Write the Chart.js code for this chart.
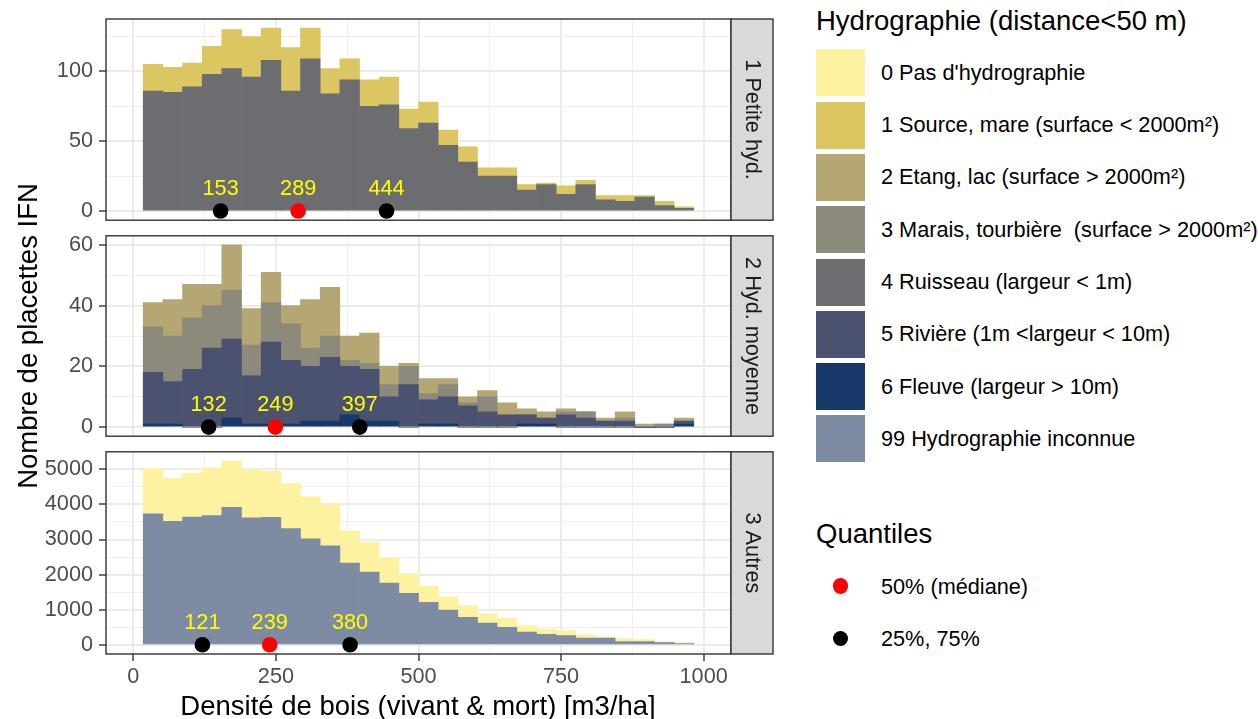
<!DOCTYPE html>
<html>
<head>
<meta charset="utf-8">
<script src="https://cdn.jsdelivr.net/npm/chart.js@4.4.0/dist/chart.umd.min.js"></script>
<style>
  body { margin: 0; background: #fff; width: 1258px; height: 719px; overflow: hidden; position: relative;
         font-family: "Liberation Sans", Arial, sans-serif; }
  .panel { position: absolute; left: 0; width: 790px; }
  .abs { position: absolute; white-space: pre; }
  .bigtxt { font-size: 27.5px; line-height: 30px; color: #000; }
  .smalltxt { font-size: 21.7px; line-height: 24px; color: #000; }
</style>
</head>
<body>
<div class="panel" style="top:0;height:228px"><canvas id="c1"></canvas></div>
<div class="panel" style="top:228px;height:216px"><canvas id="c2"></canvas></div>
<div class="panel" style="top:444px;height:275px"><canvas id="c3"></canvas></div>

<div class="abs bigtxt" style="left:-272px;top:321px;width:600px;text-align:center;transform:rotate(-90deg)">Nombre de placettes IFN</div>
<div class="abs bigtxt" style="left:118px;top:691px;width:600px;text-align:center">Densité de bois (vivant &amp; mort) [m3/ha]</div>
<div id="legend"></div>

<script>
// centres des classes (30 classes de 0 à 1000, les deux extrêmes vides)
const binCenters = [34.48, 68.97, 103.45, 137.93, 172.41, 206.90, 241.38, 275.86, 310.34, 344.83,
  379.31, 413.79, 448.28, 482.76, 517.24, 551.72, 586.21, 620.69, 655.17, 689.66,
  724.14, 758.62, 793.10, 827.59, 862.07, 896.55, 931.03, 965.52];

// 1 Petite hyd.
const p1Ruisseau = [86, 85, 89, 98, 102, 96, 108, 86, 109, 84, 94, 75, 76, 59, 63, 47, 35, 25, 25, 15, 19, 12, 19, 8, 7, 10, 4, 2];
const p1Source   = [19, 18, 17, 20, 28, 29, 23, 31, 22, 18, 15, 19, 20, 14, 15, 11, 11, 6, 6, 4, 1, 6, 3, 3, 4, 1, 3, 1];

// 2 Hyd. moyenne
const p2Fleuve  = [1, 1, 0, 0, 3, 1, 1, 1, 2, 2, 4, 2, 2, 0, 1, 1, 0, 0, 0, 1, 1, 0, 0, 0, 0, 0, 0, 1];
const p2Riviere = [17, 14, 19, 26, 26, 16, 27, 21, 18, 21, 16, 17, 8, 14, 8, 9, 7, 5, 4, 3, 2, 4, 3, 2, 2, 0, 0, 1];
const p2Marais  = [15, 15, 17, 14, 16, 10, 13, 12, 6, 7, 2, 2, 4, 6, 2, 4, 1, 5, 0, 0, 0, 1, 2, 0, 1, 0, 1, 0];
const p2Etang   = [8, 12, 11, 7, 15, 12, 10, 6, 16, 16, 8, 10, 6, 1, 5, 2, 2, 2, 4, 2, 2, 1, 0, 1, 2, 1, 0, 1];

// 3 Autres
const p3Inconnue = [3730, 3520, 3640, 3680, 3920, 3620, 3630, 3310, 3020, 2820, 2330, 2070, 1760, 1470, 1210, 990, 780, 620, 500, 360, 300, 265, 190, 190, 95, 95, 66, 38];
const p3Pas      = [1300, 1230, 1250, 1365, 1320, 1365, 1315, 1280, 1195, 1175, 910, 855, 720, 560, 465, 380, 340, 265, 255, 190, 145, 140, 95, 37, 85, 57, 29, 28];

// quantiles 25%, 50%, 75%
const p1Quantiles = [153, 289, 444];
const p2Quantiles = [132, 249, 397];
const p3Quantiles = [121, 239, 380];

const stripLabels = ["1 Petite hyd.", "2 Hyd. moyenne", "3 Autres"];

const xMajor = [0, 250, 500, 750, 1000];
const xMinor = [125, 375, 625, 875];
const p1Major = [0, 50, 100], p1Minor = [25, 75, 125];
const p2Major = [0, 20, 40, 60], p2Minor = [10, 30, 50];
const p3Major = [0, 1000, 2000, 3000, 4000, 5000], p3Minor = [500, 1500, 2500, 3500, 4500];

const legendLabels = ["0 Pas d'hydrographie", "1 Source, mare (surface < 2000m²)", "2 Etang, lac (surface > 2000m²)",
  "3 Marais, tourbière  (surface > 2000m²)", "4 Ruisseau (largeur < 1m)", "5 Rivière (1m <largeur < 10m)",
  "6 Fleuve (largeur > 10m)", "99 Hydrographie inconnue"];
const legendColors = ["#FDF2A0", "#DBC661", "#B5A774", "#8C8A7A", "#6C6D71", "#4B5270", "#173868", "#7D8CA3"];

const FONT = '"Liberation Sans", Arial, sans-serif';
Chart.defaults.font.family = FONT;

const panelDeco = {
  id: 'panelDeco',
  afterDatasetsDraw(chart, args, opts) {
    const { ctx, chartArea: a, scales } = chart;
    const y0 = scales.y.getPixelForValue(0);
    ctx.save();
    ctx.font = '21.7px ' + FONT;
    ctx.fillStyle = '#FFFF00';
    ctx.textAlign = 'center';
    ctx.textBaseline = 'alphabetic';
    opts.quantiles.forEach(v => ctx.fillText(String(v), scales.x.getPixelForValue(v), y0 - 16));
    ctx.strokeStyle = '#333333';
    ctx.lineWidth = 1.4;
    ctx.strokeRect(a.left, a.top, a.right - a.left, a.bottom - a.top);
    ctx.fillStyle = '#D9D9D9';
    ctx.fillRect(a.right, a.top, 42, a.bottom - a.top);
    ctx.strokeRect(a.right, a.top, 42, a.bottom - a.top);
    ctx.translate(a.right + 21, (a.top + a.bottom) / 2);
    ctx.rotate(Math.PI / 2);
    ctx.fillStyle = '#1A1A1A';
    ctx.textBaseline = 'middle';
    ctx.fillText(opts.strip, 0, 0);
    ctx.restore();
  }
};

function makeTicks(major, minor) {
  return [...major, ...minor].sort((a, b) => a - b).map(v => ({ value: v }));
}

function gridOpts(major, drawTicks) {
  return {
    offset: false,
    drawTicks: drawTicks,
    tickLength: 7,
    tickWidth: 1.4,
    color: c => major.includes(c.tick && c.tick.value) ? '#EBEBEB' : '#EFEFEF',
    lineWidth: c => major.includes(c.tick && c.tick.value) ? 2 : 1,
    tickColor: c => major.includes(c.tick && c.tick.value) ? '#333333' : 'rgba(0,0,0,0)'
  };
}

function noPad(s) {
  s.paddingTop = 0; s.paddingBottom = 0; s.paddingLeft = 0; s.paddingRight = 0;
}

function barSet(values, color) {
  return {
    type: 'bar', order: 1,
    data: binCenters.map((x, i) => ({ x: x, y: values[i] })),
    backgroundColor: color, borderWidth: 0,
    barPercentage: 1, categoryPercentage: 1
  };
}

function pointSets(q) {
  return [
    { type: 'scatter', order: 0, stack: 'q', data: [q[0], q[2]].map(v => ({ x: v, y: 0 })),
      backgroundColor: '#000000', borderWidth: 0, pointRadius: 7.8 },
    { type: 'scatter', order: 0, stack: 'q', data: [{ x: q[1], y: 0 }],
      backgroundColor: '#FF0000', borderWidth: 0, pointRadius: 7.8 }
  ];
}

function makePanel(id, bars, q, strip, yMin, yMax, yMajor, yMinor, showX, pad) {
  new Chart(document.getElementById(id), {
    type: 'bar',
    data: { datasets: [...pointSets(q), ...bars] },
    options: {
      responsive: true, maintainAspectRatio: false, animation: false,
      layout: { padding: pad },
      plugins: { legend: { display: false }, tooltip: { enabled: false }, panelDeco: { quantiles: q, strip: strip } },
      scales: {
        x: {
          type: 'linear', min: -48, max: 1048, offset: false, stacked: true,
          afterBuildTicks: s => { s.ticks = makeTicks(xMajor, xMinor); },
          afterFit: s => { s.height = showX ? 65 : 0; noPad(s); },
          border: { display: false },
          grid: gridOpts(xMajor, showX),
          ticks: {
            display: showX, autoSkip: false, maxRotation: 0, padding: 3,
            color: '#4D4D4D', font: { size: 21.7 },
            callback: v => xMajor.includes(v) ? String(v) : ''
          }
        },
        y: {
          min: yMin, max: yMax, stacked: true,
          afterBuildTicks: s => { s.ticks = makeTicks(yMajor, yMinor); },
          afterFit: s => { s.width = 66; noPad(s); },
          border: { display: false },
          grid: gridOpts(yMajor, true),
          ticks: {
            autoSkip: false, padding: 6, color: '#4D4D4D', font: { size: 21.7 },
            callback: v => yMajor.includes(v) ? String(v) : ''
          }
        }
      }
    },
    plugins: [panelDeco]
  });
}

makePanel('c1', [barSet(p1Ruisseau, legendColors[4]), barSet(p1Source, legendColors[1])],
  p1Quantiles, stripLabels[0], -6.55, 137.55, p1Major, p1Minor, false,
  { left: 40, right: 59, top: 19, bottom: 7 });

makePanel('c2', [barSet(p2Fleuve, legendColors[6]), barSet(p2Riviere, legendColors[5]),
  barSet(p2Marais, legendColors[3]), barSet(p2Etang, legendColors[2])],
  p2Quantiles, stripLabels[1], -3, 63, p2Major, p2Minor, false,
  { left: 40, right: 59, top: 7, bottom: 7 });

makePanel('c3', [barSet(p3Inconnue, legendColors[7]), barSet(p3Pas, legendColors[0])],
  p3Quantiles, stripLabels[2], -262, 5499, p3Major, p3Minor, true,
  { left: 40, right: 59, top: 7, bottom: 0 });

// légende
const leg = document.getElementById('legend');
function addDiv(cls, style, text) {
  const d = document.createElement('div');
  d.className = 'abs ' + cls;
  d.setAttribute('style', style);
  if (text !== undefined) d.textContent = text;
  leg.appendChild(d);
}
addDiv('bigtxt', 'left:816px;top:6px', 'Hydrographie (distance<50 m)');
legendLabels.forEach((lab, i) => {
  const top = 49.3 + i * 52.3;
  addDiv('', `left:816px;top:${top}px;width:49px;height:47px;background:${legendColors[i]}`);
  addDiv('smalltxt', `left:881px;top:${top + 23.5 - 12}px`, lab);
});
addDiv('bigtxt', 'left:816px;top:519px', 'Quantiles');
const quantLegend = [["50% (médiane)", "#FF0000", 586], ["25%, 75%", "#000000", 638.3]];
quantLegend.forEach(([lab, col, cy]) => {
  addDiv('', `left:${840.7 - 7.8}px;top:${cy - 7.8}px;width:15.6px;height:15.6px;border-radius:50%;background:${col}`);
  addDiv('smalltxt', `left:881px;top:${cy - 11}px`, lab);
});
</script>
</body>
</html>
